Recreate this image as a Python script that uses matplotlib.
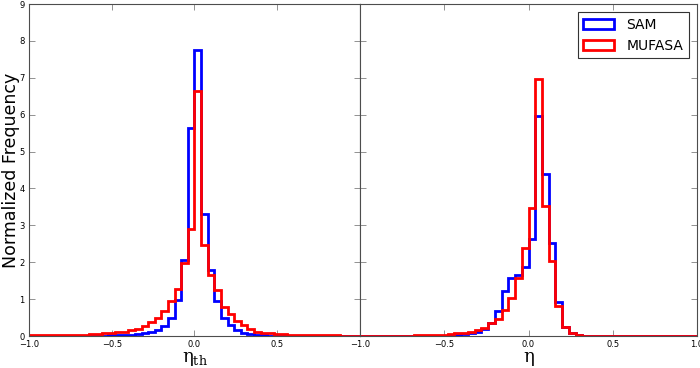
import numpy as np
import matplotlib
matplotlib.use('Agg')
import matplotlib.pyplot as plt

plt.rcParams['mathtext.fontset'] = 'custom'
plt.rcParams['mathtext.rm'] = 'DejaVu Serif'

# 50 bins of width 0.04 between -1 and 1
edges = np.linspace(-1.0, 1.0, 51)

# left panel: eta_th
sam_th = [0.00, 0.00, 0.00, 0.00, 0.00, 0.00, 0.00, 0.00, 0.01, 0.01,
          0.01, 0.01, 0.02, 0.02, 0.03, 0.04, 0.06, 0.08, 0.12, 0.17,
          0.28, 0.48, 0.98, 2.06, 5.65, 7.75, 3.31, 1.78, 0.94, 0.50,
          0.30, 0.15, 0.09, 0.05, 0.03, 0.02, 0.01, 0.01, 0.00, 0.00,
          0.00, 0.00, 0.00, 0.00, 0.00, 0.00, 0.00, 0.00, 0.00, 0.00]
mufasa_th = [0.02, 0.02, 0.02, 0.02, 0.02, 0.03, 0.03, 0.04, 0.04, 0.05,
             0.06, 0.07, 0.08, 0.11, 0.12, 0.15, 0.20, 0.27, 0.38, 0.50,
             0.67, 0.95, 1.28, 1.97, 2.91, 6.65, 2.48, 1.66, 1.24, 0.79,
             0.60, 0.40, 0.30, 0.18, 0.11, 0.08, 0.07, 0.06, 0.05, 0.03,
             0.02, 0.02, 0.02, 0.02, 0.04, 0.02, 0.02, 0.01, 0.01, 0.01]

# right panel: eta
sam_eta = [0.00, 0.00, 0.00, 0.00, 0.00, 0.00, 0.00, 0.00, 0.00, 0.01,
           0.01, 0.01, 0.01, 0.02, 0.03, 0.05, 0.07, 0.12, 0.18, 0.36,
           0.69, 1.22, 1.58, 1.65, 1.86, 2.62, 5.96, 4.38, 2.51, 0.91,
           0.25, 0.07, 0.02, 0.00, 0.00, 0.00, 0.00, 0.00, 0.00, 0.00,
           0.00, 0.00, 0.00, 0.00, 0.00, 0.00, 0.00, 0.00, 0.00, 0.00]
mufasa_eta = [0.00, 0.00, 0.00, 0.00, 0.01, 0.01, 0.01, 0.01, 0.02, 0.02,
              0.03, 0.03, 0.04, 0.06, 0.07, 0.09, 0.12, 0.16, 0.23, 0.34,
              0.45, 0.70, 1.02, 1.56, 2.39, 3.46, 6.96, 3.52, 2.04, 0.81,
              0.25, 0.07, 0.02, 0.00, 0.00, 0.00, 0.00, 0.00, 0.00, 0.00,
              0.00, 0.00, 0.00, 0.00, 0.00, 0.00, 0.00, 0.00, 0.00, 0.00]

xticks = [-1.0, -0.5, 0.0, 0.5, 1.0]
centers = 0.5 * (edges[:-1] + edges[1:])

fig = plt.figure(figsize=(7.0, 3.68), dpi=100)
ax1 = fig.add_axes([29/700, 1 - 336/368, (360 - 29)/700, 332/368])
ax2 = fig.add_axes([360/700, 1 - 336/368, (697 - 360)/700, 332/368], sharey=ax1)

panels = [(ax1, sam_th, mufasa_th, r'$\mathrm{\eta}_{\mathrm{th}}$'),
          (ax2, sam_eta, mufasa_eta, r'$\mathrm{\eta}$')]
for ax, sam, muf, xlab in panels:
    ax.hist(centers, bins=edges, weights=sam, histtype='step', color='blue', lw=2, label='SAM')
    ax.hist(centers, bins=edges, weights=muf, histtype='step', color='red', lw=2, label='MUFASA')
    ax.set_xlim(-1, 1)
    ax.set_ylim(0, 9)
    ax.set_xticks(xticks)
    ax.set_yticks(range(10))
    ax.tick_params(direction='in', top=True, right=True, labelsize=6, length=4,
                   width=0.5, color='0.4', pad=3)
    for s in ax.spines.values():
        s.set_linewidth(0.8)
        s.set_color('0.3')
    ax.set_xlabel(xlab, fontsize=13)
    ax.xaxis.set_label_coords(0.5, -0.042)

# left panel's 1.0 label sits under the right panel's -1.0
ax1.set_xticklabels(['\u22121.0', '\u22120.5', '0.0', '0.5', ''])
ax1.set_ylabel('Normalized Frequency', fontsize=12.5)
ax1.yaxis.set_label_coords(-0.026, 0.5)
plt.setp(ax2.get_yticklabels(), visible=False)

leg = ax2.legend(loc='upper right', fontsize=10, fancybox=False, framealpha=1,
                 edgecolor='0.2', handlelength=2.2, handleheight=0.8,
                 borderaxespad=0.6, handletextpad=0.9)
leg.get_frame().set_linewidth(0.8)

fig.savefig('out.png', dpi=100)
